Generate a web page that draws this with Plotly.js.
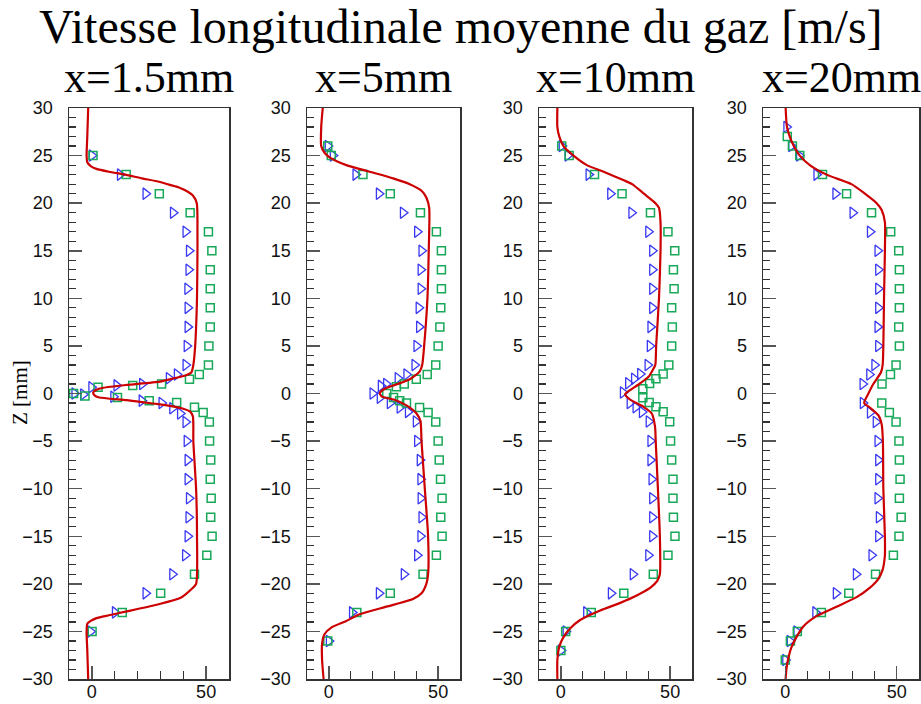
<!DOCTYPE html>
<html>
<head>
<meta charset="utf-8">
<script src="https://cdn.plot.ly/plotly-3.0.1.min.js"></script>
<style>html,body{margin:0;padding:0;background:#fff;}#chart{width:921px;height:704px;}</style>
</head>
<body>
<div id="chart"></div>
<script>
// ---------- DATA ----------
const chartTitle = "Vitesse longitudinale moyenne du gaz [m/s]";
const panelTitles = ["x=1.5mm", "x=5mm", "x=10mm", "x=20mm"];
const yAxisLabel = "Z [mm]";

// Panel 1 : x = 1.5 mm
const p1TriZ = [25,23,21,19,17,15,13,11,9,7,5,3,2,1.6,1.0,0.85,0.65,0,-0.1,-0.35,-0.75,-1.0,-1.55,-2.1,-3,-5,-7,-9,-11,-13,-15,-17,-19,-21,-23,-25];
const p1TriV = [0,12.3,23.5,35.5,41,42.5,42.3,41.8,41.9,41.9,41.5,41,37.2,33.7,22,10.8,-0.2,-7.6,-3.8,9.4,21.8,30.5,35.2,38.6,41,41.5,41.9,41.9,42.5,42.3,41.9,40.8,35.2,23.5,10.1,-0.6];
const p1SqZ  = [25,23,21,19,17,15,13,11,9,7,5,3,2,1.5,1.0,0.85,0.65,0,-0.25,-0.42,-0.75,-0.95,-1.45,-2,-3,-5,-7,-9,-11,-13,-15,-17,-19,-21,-23,-25];
const p1SqV  = [0.5,15,29.5,43,51,52.5,51.8,51.8,51.8,51.8,51.2,51,47,42.7,30.5,17.9,2.7,-8,-3,11.2,25.1,37.1,44.9,48.7,51.4,51.5,52,51.8,52.2,52,52.6,50.3,44.9,30.1,13.3,0.1];
const p1LineZ = [30,27,25,24.3,23.9,23.6,23.3,23,22.6,22.3,21.9,21.6,21.2,20.8,20,17,15,10,5,3,2.2,1.9,1.6,1.25,0.9,0.6,0.4,0.15,0,-0.2,-0.4,-0.55,-0.7,-0.9,-1.15,-1.4,-1.6,-1.9,-2.4,-3.5,-5,-10,-15,-20,-20.6,-21.1,-21.5,-22.2,-22.9,-23.3,-23.6,-23.9,-24.2,-25,-27,-30];
const p1LineV = [-1.6,-2.0,-2.3,-2.0,-0.5,2,7.5,14.5,22,28.4,34.5,38.6,42,44.2,45.9,46.2,46.2,46,45.2,44.4,43.5,41,36,29.8,15.2,5,2,0.7,0.6,1.2,2.8,8,15.2,22,29.8,36.5,40,43,44.2,44.4,44.4,45.6,46,45.6,43.4,41,38.6,28.4,15.2,7.5,2,-0.5,-2,-2.3,-2.0,-1.6];

// Panel 2 : x = 5 mm
const p2TriZ = [26,25,23,21,19,17,15,13,11,9,7,5,3,2,1.6,1.0,0.8,0,-0.45,-1.0,-1.47,-1.93,-2.95,-5,-7,-9,-11,-13,-15,-17,-19,-21,-23,-26];
const p2TriV = [-0.5,1.8,12.2,22.9,33.9,40.4,42.4,42,42,41.1,41.3,40.1,39.2,35.5,31.5,26.2,23.8,20,23.3,27.9,32.4,36.2,39.8,40.4,41.6,41.9,42,42.4,41.9,40.4,34.3,22.9,10.6,0];
const p2SqZ  = [26,25,23,21,19,17,15,13,11,9,7,5,3,2,1.5,1.0,0.7,0,-0.42,-0.77,-1.0,-1.47,-2,-3,-5,-7,-9,-11,-13,-15,-17,-19,-21,-23,-26];
const p2SqV  = [-0.5,1.1,15.6,28.1,41.9,49.2,51.5,51.5,51.5,51.2,50.8,50,48.9,45,40,34.5,30.9,26.5,29.6,32.4,35.5,41.5,45.4,48.9,50,50.5,51.1,51.8,51.2,51.8,49.2,43.1,28.1,12.8,-0.5];
const p2LineZ = [30,28,26,25.3,24.7,24,23.3,22.6,22,21.3,20.6,19.5,15,10,5,3,2.3,1.5,1.0,0.6,0.25,0,-0.35,-0.65,-1.25,-2.1,-2.9,-5,-10,-15,-19,-20,-21,-21.6,-22.4,-23.2,-23.9,-24.6,-25.3,-26.3,-28,-30];
const p2LineV = [-2.8,-3.5,-3.5,-2,1.1,8,18.7,29.4,37,42.4,44.6,45.9,45.7,45.1,43.6,42.7,41.5,37,31.5,26.5,24,23.3,24.5,30,35.5,40.1,41.9,42.4,43.9,45.4,45.4,44.6,42.4,38.5,26.3,14.1,8,1.1,-2,-3.1,-3.1,-2.4];

// Panel 3 : x = 10 mm
const p3TriZ = [26,25,23,21,19,17,15,13,11,9,7,5,3,2.05,1.55,1.07,0.1,-1.0,-1.45,-1.95,-2.95,-5,-7,-9,-11,-13,-15,-17,-19,-21,-23,-25,-27];
const p3TriV = [0.4,3.1,12.7,22.6,32.3,40,41.8,41.8,41.8,41.8,41,40.7,39.7,36.3,33.5,30.8,28.4,31.5,34.2,37.1,40.2,41,41,41.5,41.8,41.8,41.8,40,32.9,22.9,11.6,2.2,0];
const p3SqZ  = [26,25,23,21,19,17,15,13,11,9,7,5,3,2.05,1.55,1.05,0.5,-0.45,-0.95,-1.4,-1.93,-2.98,-5,-7,-9,-11,-13,-15,-17,-19,-21,-23,-25,-27];
const p3SqV  = [0.4,3.8,15.4,28,41,49,52.1,51.5,51.8,50.7,51,50.7,49.4,46.8,43.5,40.6,37.5,37.5,40.4,43.5,46.8,49.8,50.2,50.7,51.3,51.3,51.5,52.2,49,42.3,28.8,13.9,2.2,0];
const p3LineZ = [30,28,27,26,25,24,23.3,22.4,22,21,20,19.5,18,15,10,5,3,2.45,1.75,1.05,0.35,-0.07,-0.63,-1.4,-2.1,-3.5,-5,-10,-15,-19,-19.7,-20.4,-21.2,-22,-22.8,-23.8,-24.7,-25.6,-26.6,-28,-30];
const p3LineV = [-1.6,-1.6,-0.7,1.2,5.8,11.9,19.6,28.8,32.6,38,43.3,44.9,45.6,45.6,44.9,43.6,43.2,42,40.1,36.2,31.6,29.4,31.6,37.8,41.6,43.1,43.4,44.4,45.3,45.3,44.1,41,34.9,27.2,18,8.8,4.2,1.2,-0.7,-1.6,-1.6];

// Panel 4 : x = 20 mm
const p4TriZ = [28,26,25,23,21,19,17,15,13,11,9,7,5,3,2,1,-1,-2,-3,-5,-7,-9,-11,-13,-15,-17,-19,-21,-23,-25,-26,-28];
const p4TriV = [0.5,2.7,6.2,14,22.5,30.2,38,41.4,41.7,41.7,41.7,41.4,41.7,40,37.7,34.7,34.8,38,40.6,41.4,41.7,41.7,41.4,42,41.7,38.7,31.7,22.7,13.5,5,2,0];
const p4SqZ  = [27,26,25,23,21,19,17,15,13,11,9,7,5,3,2,1,-1,-2,-3,-5,-7,-9,-11,-13,-15,-17,-19,-21,-23,-25,-26,-28];
const p4SqV  = [0.9,3.2,6.5,16.7,27.5,38.7,47.3,50.9,51.2,51.2,51.2,50.9,51.2,49.7,47.2,43.4,43.3,46.7,49.7,51,51.2,51.5,51.2,52,51,48.5,40.5,28.5,16.2,5.4,2.3,0];
const p4LineZ = [30,28,27,26,25,24,23,22,21,20,19.3,18,15,10,5,3,2.2,1,0,-1,-1.5,-2.3,-3.3,-5,-10,-15,-17,-18.5,-19.5,-20.4,-21.4,-22.4,-23.4,-24.5,-25.6,-26.7,-28,-29,-30];
const p4LineV = [0.15,0.75,2,3.8,6.5,11,18.5,29.7,35.7,41,43.2,44.7,44.7,44.3,44,43.7,42.9,39.5,37.3,35.4,38.1,41.8,43.3,43.8,44,44.7,44.7,43.7,41.7,38,32,23,14,8,5,2.7,1.2,0.5,0.15];

const xTickVals = [0, 50];
const yTickVals = [-30,-25,-20,-15,-10,-5,0,5,10,15,20,25,30];

// ---------- BUILD ----------
const panels = [
  {tz:p1TriZ,tv:p1TriV,sz:p1SqZ,sv:p1SqV,lz:p1LineZ,lv:p1LineV},
  {tz:p2TriZ,tv:p2TriV,sz:p2SqZ,sv:p2SqV,lz:p2LineZ,lv:p2LineV},
  {tz:p3TriZ,tv:p3TriV,sz:p3SqZ,sv:p3SqV,lz:p3LineZ,lv:p3LineV},
  {tz:p4TriZ,tv:p4TriV,sz:p4SqZ,sv:p4SqV,lz:p4LineZ,lv:p4LineV}
];
const W = 921, H = 704;
const pxDomains = [[69,229],[307,460],[539,692],[763,919]];
const yDom = [(H-679)/H, (H-108)/H];

const BLUE = '#3838f5', GREEN = '#17a858', RED = '#cc0000';
const traces = [];
const layout = {
  width: W, height: H,
  margin: {l:0, r:0, t:0, b:0},
  paper_bgcolor: '#ffffff', plot_bgcolor: '#ffffff',
  showlegend: false,
  annotations: []
};
const tickFont = {family: 'Liberation Sans, Arial, sans-serif', size: 18, color: '#111'};

panels.forEach((p, i) => {
  const n = i + 1;
  const xa = 'x' + (n === 1 ? '' : n), ya = 'y' + (n === 1 ? '' : n);
  traces.push({
    type: 'scatter', mode: 'markers', x: p.tv, y: p.tz, xaxis: xa, yaxis: ya,
    marker: {symbol: 'triangle-right-open', size: 10, color: BLUE, line: {width: 1.3, color: BLUE}},
    cliponaxis: false, hoverinfo: 'skip'
  });
  traces.push({
    type: 'scatter', mode: 'markers', x: p.sv, y: p.sz, xaxis: xa, yaxis: ya,
    marker: {symbol: 'square-open', size: 8, color: GREEN, line: {width: 1.5, color: GREEN}},
    cliponaxis: false, hoverinfo: 'skip'
  });
  traces.push({
    type: 'scatter', mode: 'lines', x: p.lv, y: p.lz, xaxis: xa, yaxis: ya,
    line: {color: RED, width: 2.2, shape: 'spline', smoothing: 0.6},
    hoverinfo: 'skip'
  });
  const d = pxDomains[i];
  layout['xaxis' + (n === 1 ? '' : n)] = {
    domain: [d[0]/W, d[1]/W], anchor: ya, range: [-10, 60],
    tickmode: 'array', tickvals: xTickVals,
    ticks: 'inside', ticklen: 13, tickwidth: 1.5, tickcolor: '#555',
    ticklabelstandoff: -4,
    minor: {dtick: 10, tick0: 0, ticks: 'inside', ticklen: 8, tickwidth: 1.2, tickcolor: '#333', showgrid: false},
    showline: true, mirror: true, linecolor: '#333', linewidth: 1.5,
    showgrid: false, zeroline: false, tickfont: tickFont, fixedrange: true
  };
  layout['yaxis' + (n === 1 ? '' : n)] = {
    domain: yDom, anchor: xa, range: [-30, 30],
    tickmode: 'array', tickvals: yTickVals,
    ticks: 'inside', ticklen: 13, tickwidth: 1.5, tickcolor: '#555',
    ticklabelstandoff: 11,
    minor: {dtick: 1, tick0: 0, ticks: 'inside', ticklen: 7, tickwidth: 1.2, tickcolor: '#333', showgrid: false},
    showline: true, mirror: true, linecolor: '#333', linewidth: 1.5,
    showgrid: false, zeroline: false, tickfont: tickFont, fixedrange: true
  };
  layout.annotations.push({
    text: panelTitles[i], xref: 'paper', yref: 'paper',
    x: (d[0] + d[1]) / 2 / W, y: 1 - 77/H, xanchor: 'center', yanchor: 'middle',
    showarrow: false, font: {family: 'Liberation Serif, Times New Roman, serif', size: 44, color: '#000'}
  });
});

layout.annotations.push({
  text: chartTitle, xref: 'paper', yref: 'paper', x: 461/W, y: 1 - 26/H,
  xanchor: 'center', yanchor: 'middle', showarrow: false,
  font: {family: 'Liberation Serif, Times New Roman, serif', size: 48, color: '#000'}
});
layout.annotations.push({
  text: yAxisLabel, xref: 'paper', yref: 'paper', x: 20/W, y: 1 - 393/H,
  xanchor: 'center', yanchor: 'middle', textangle: -90, showarrow: false,
  font: {family: 'Liberation Serif, Times New Roman, serif', size: 21, color: '#000'}
});

Plotly.newPlot('chart', traces, layout, {staticPlot: true, displayModeBar: false});
</script>
</body>
</html>
